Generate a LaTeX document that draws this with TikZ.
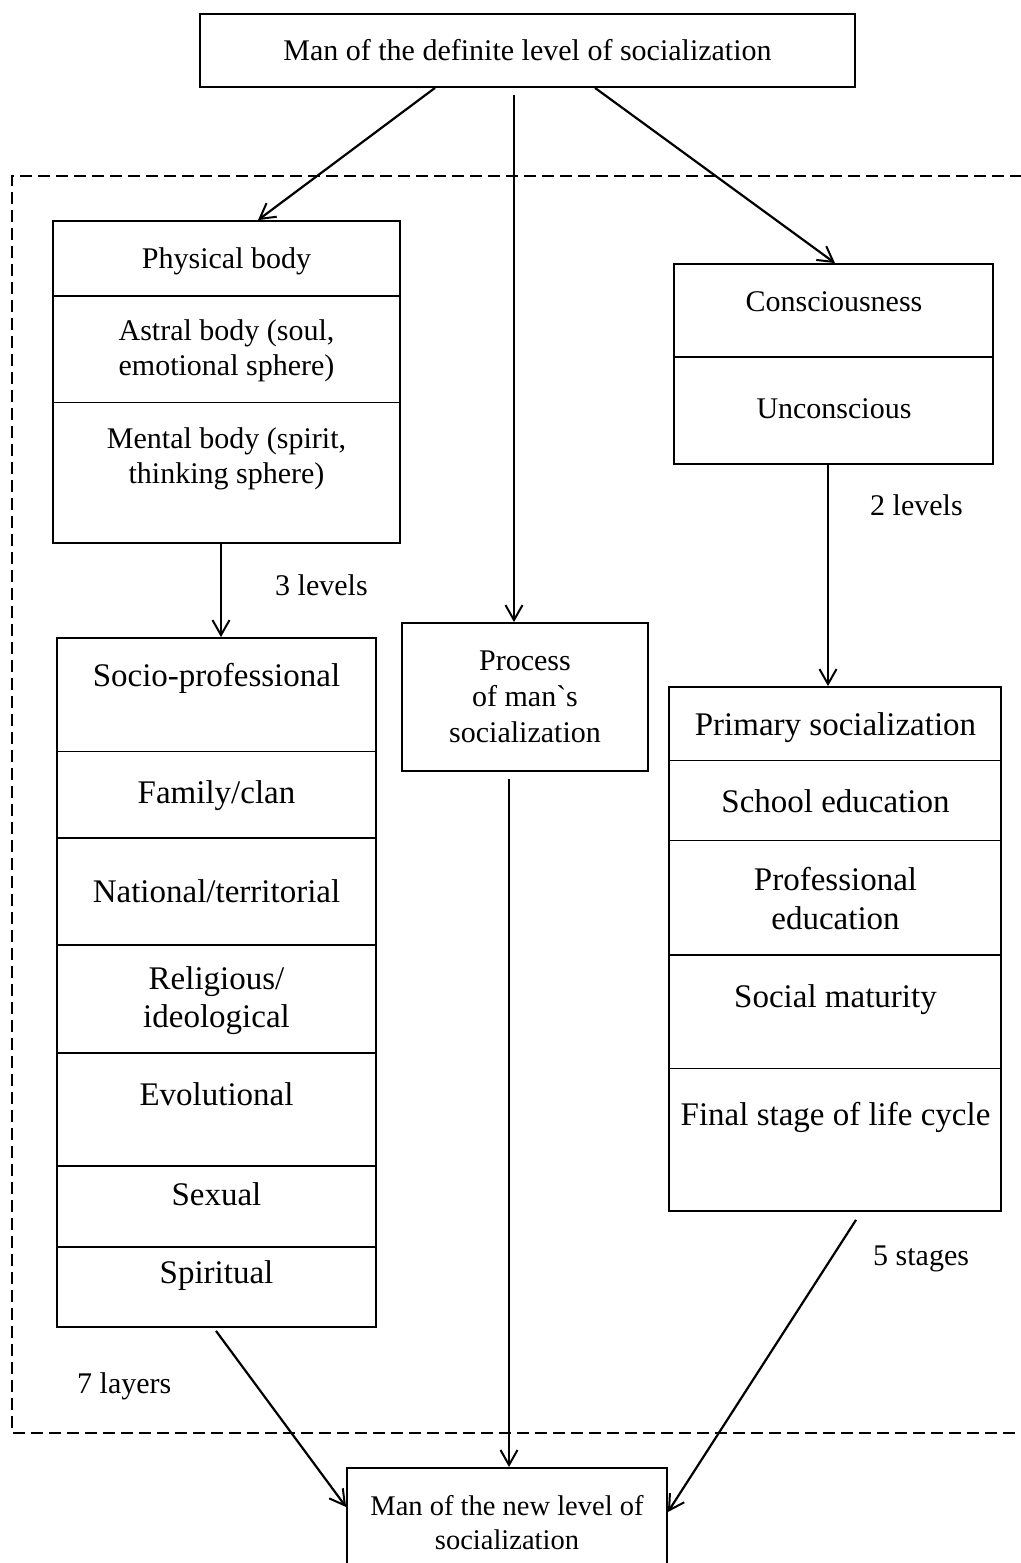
\documentclass[tikz,border=0pt]{standalone}
\usepackage{fontspec}
\setmainfont{Liberation Serif}
\usetikzlibrary{arrows.meta,calc}
\begin{document}
\begin{tikzpicture}[x=1pt,y=-1pt,
  cell/.style={draw, line width=1.8pt, inner sep=0pt},
  divider/.style={line width=1.8pt},
  region/.style={line width=2pt, dash pattern=on 12pt off 6pt},
  conn/.style={line width=2.2pt, -{Straight Barb[length=15pt,width=17pt,line width=2pt]}},
  up/.style={anchor=base, inner sep=0pt, align=center, font=\fontsize{30}{35}\selectfont},
  lo/.style={anchor=base, inner sep=0pt, align=center, font=\fontsize{33}{38.5}\selectfont},
  lab/.style={anchor=base west, inner sep=0pt, font=\fontsize{30}{35}\selectfont},
]
\useasboundingbox (0,0) rectangle (1020,1563);

% dashed region
\draw[region] (1040,176) -- (12,176) -- (12,1433) -- (1040,1433);

% top box
\node[cell, minimum width=655pt, minimum height=73pt, font=\fontsize{30}{35}\selectfont] (top) at (527.5,50.5) {Man of the definite level of socialization};

% physical / astral / mental
\node[cell, minimum width=347pt, minimum height=322pt] (phys) at (226.5,382) {};
\draw[divider] (phys.west |- 0,296) -- (phys.east |- 0,296);
\draw[divider] (phys.west |- 0,402.5) -- (phys.east |- 0,402.5);
\node[up] (t1) at (226.5,268) {Physical body};
\node[up] (t2) at (226.5,375) {Astral body (soul,\\emotional sphere)};
\node[up] (t3) at (226.5,483) {Mental body (spirit,\\thinking sphere)};

% consciousness / unconscious
\node[cell, minimum width=319pt, minimum height=200pt] (cons) at (833.5,364) {};
\draw[divider] (cons.west |- 0,357) -- (cons.east |- 0,357);
\node[up] (c1) at (834,311) {Consciousness};
\node[up] (c2) at (834,418) {Unconscious};

% process
\node[cell, minimum width=246pt, minimum height=148pt, align=center, font=\fontsize{30}{36}\selectfont] (proc) at (525,697) {Process\\of man\textasciigrave s\\socialization};

% seven layers
\node[cell, minimum width=319pt, minimum height=689pt] (layers) at (216.5,982.5) {};
\foreach \yy in {751.5,838,945,1053,1166,1247}
  \draw[divider] (layers.west |- 0,\yy) -- (layers.east |- 0,\yy);
\node[lo] (l1) at (216.5,686) {Socio-professional};
\node[lo] (l2) at (216.5,803) {Family/clan};
\node[lo] (l3) at (216.5,902) {National/territorial};
\node[lo] (l4) at (216.5,1027.5) {Religious/\\ideological};
\node[lo] (l5) at (216.5,1105.5) {Evolutional};
\node[lo] (l6) at (216.5,1205) {Sexual};
\node[lo] (l7) at (216.5,1283) {Spiritual};

% five stages
\node[cell, minimum width=332pt, minimum height=524pt] (stages) at (835,949) {};
\foreach \yy in {760.5,840.5,955,1068.5}
  \draw[divider] (stages.west |- 0,\yy) -- (stages.east |- 0,\yy);
\node[lo] (s1) at (835.5,735) {Primary socialization};
\node[lo] (s2) at (835.5,812.5) {School education};
\node[lo] (s3) at (835.5,929) {Professional\\education};
\node[lo] (s4) at (835.5,1007.5) {Social maturity};
\node[lo] (s5) at (835.5,1125) {Final stage of life cycle};

% bottom box
\node[cell, anchor=north, minimum width=320pt, minimum height=110pt, align=center, font=\fontsize{28.5}{34}\selectfont] (bot) at (507,1467) {Man of the new level of\\socialization};

% labels
\node[lab] (n3) at (275,595) {3 levels};
\node[lab] (n2) at (870,515) {2 levels};
\node[lab] (n5) at (873,1265) {5 stages};
\node[lab] (n7) at (77,1393) {7 layers};

% connectors
\draw[conn] (top.south -| 435,0) -- (phys.north -| 258,0);
\draw[conn] ($(top.south -| 514,0)+(0,7)$) -- (proc.north -| 514,0);
\draw[conn] (top.south -| 595,0) -- (cons.north -| 835,0);
\draw[conn] (phys.south -| 221,0) -- (layers.north -| 221,0);
\draw[conn] (cons.south -| 828,0) -- (stages.north -| 828,0);
\draw[conn] ($(layers.south -| 216,0)+(0,3)$) -- (bot.west |- 0,1507);
\draw[conn] ($(proc.south -| 509,0)+(0,7)$) -- (bot.north -| 509,0);
\draw[conn] ($(stages.south -| 856,0)+(0,8)$) -- (bot.east |- 0,1512);
\end{tikzpicture}
\end{document}
